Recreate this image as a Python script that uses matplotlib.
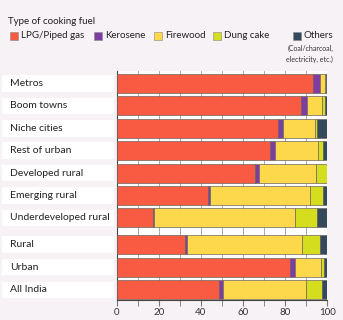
import matplotlib.pyplot as plt
from matplotlib.patches import Rectangle
from matplotlib.transforms import blended_transform_factory
import numpy as np

plt.rcParams['font.family'] = ['Lato', 'DejaVu Sans']

categories = ['Metros', 'Boom towns', 'Niche cities', 'Rest of urban', 'Developed rural',
              'Emerging rural', 'Underdeveloped rural', 'Rural', 'Urban', 'All India']
lpg = [93.0, 87.4, 76.7, 72.9, 65.8, 43.5, 17.4, 32.6, 82.3, 48.7]
kerosene = [3.7, 3.1, 2.4, 2.4, 1.6, 0.9, 0.2, 0.9, 2.2, 1.6]
firewood = [2.3, 7.1, 15.2, 20.4, 27.1, 47.5, 66.9, 54.6, 12.6, 39.7]
dung_cake = [0.2, 1.2, 0.8, 2.4, 5.5, 6.2, 10.6, 8.4, 1.4, 7.6]
others = [0.8, 1.2, 4.9, 1.9, 0.0, 1.9, 4.9, 3.5, 1.5, 2.4]

series = [lpg, kerosene, firewood, dung_cake, others]
names = ['LPG/Piped gas', 'Kerosene', 'Firewood', 'Dung cake', 'Others']
colors = ['#f95b42', '#7d3ea1', '#fed84b', '#d5dd1f', '#34495b']

bg = '#f7f2f5'
W, H = 343, 320
fig = plt.figure(figsize=(W / 100, H / 100), dpi=100, facecolor=bg)

# axes placed in pixel coords
x0, x1, ytop, ybot = 116.7, 327.3, 71, 300
ax = fig.add_axes([x0 / W, 1 - ybot / H, (x1 - x0) / W, (ybot - ytop) / H])
ax.set_facecolor('white')

ypos = np.array([0, 1, 2, 3, 4, 5, 6, 7.18, 8.2, 9.22])
left = np.zeros(len(categories))
for vals, c in zip(series, colors):
    ax.barh(ypos, vals, left=left, height=0.85, color=c, edgecolor='#6e6660',
            linewidth=0.5, zorder=3)
    left += np.array(vals)

ax.set_xlim(0, 100)
ax.set_ylim(9.67, -0.56)
ax.set_yticks([])
ax.set_xticks(range(0, 101, 20))
ax.set_xticks(range(10, 100, 20), minor=True)
ax.tick_params(axis='x', which='both', length=4, color='#777777', labelsize=7,
               labelcolor='#333333', pad=2)
ax.grid(axis='x', which='both', color='#aaaaaa', linewidth=0.7, zorder=0)
for s in ['top', 'right']:
    ax.spines[s].set_visible(False)
ax.spines['bottom'].set_color('#444444')
ax.spines['left'].set_color('#444444')

# label boxes on the left
tr = blended_transform_factory(fig.transFigure, ax.transData)
for y, lab in zip(ypos, categories):
    ax.add_patch(Rectangle((2 / W, y - 0.37), 112 / W, 0.74, transform=tr,
                           facecolor='white', edgecolor='none', clip_on=False))
    ax.text(10 / W, y, lab, transform=tr, fontsize=7.5, va='center', ha='left',
            color='#222222')

# legend
fig.text(8 / W, 1 - 22 / H, 'Type of cooking fuel', fontsize=7, va='center',
         color='#222222')
sq_x = [10, 94, 154, 213, 293]
for sx, c, n in zip(sq_x, colors, names):
    fig.patches.append(Rectangle((sx / W, 1 - 40 / H), 8 / W, 8 / H,
                                 transform=fig.transFigure, facecolor=c,
                                 edgecolor='#888888', linewidth=0.4))
    fig.text((sx + 11) / W, 1 - 36 / H, n, fontsize=7, va='center', color='#222222')
fig.text(333 / W, 1 - 48 / H, '(Coal/charcoal,', fontsize=5, ha='right',
         va='center', color='#333333')
fig.text(333 / W, 1 - 59 / H, 'electricity, etc.)', fontsize=5, ha='right',
         va='center', color='#333333')

fig.savefig('out.png', dpi=100, facecolor=bg)
